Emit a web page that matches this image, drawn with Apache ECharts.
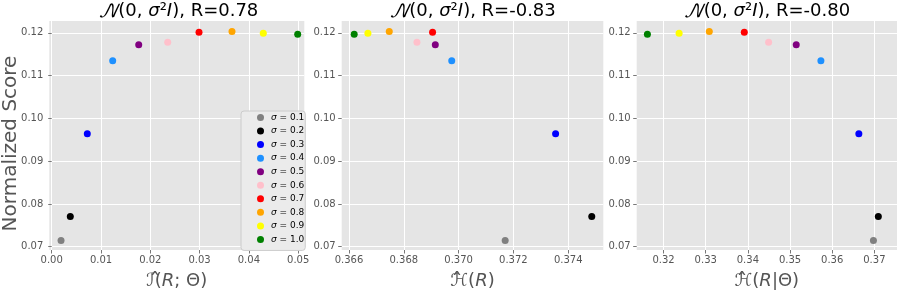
<!DOCTYPE html>
<html>
<head>
<meta charset="utf-8">
<script src="https://cdn.jsdelivr.net/npm/echarts@6/dist/echarts.min.js"></script>
<style>html,body{margin:0;padding:0;background:#fff}#c{width:900px;height:295px}</style>
</head>
<body>
<div id="c"></div>
<script>
const sigmas = ['0.1','0.2','0.3','0.4','0.5','0.6','0.7','0.8','0.9','1.0'];
const scores = [0.07148, 0.07705, 0.09643, 0.11351, 0.11722, 0.11784, 0.12016, 0.12030, 0.11993, 0.11970];
const mutualInfo = [0.00189, 0.00377, 0.00722, 0.01237, 0.01765, 0.02353, 0.02988, 0.03657, 0.04292, 0.04990];
const entropyR = [0.37170, 0.37486, 0.37354, 0.36975, 0.36915, 0.36848, 0.36905, 0.36747, 0.36669, 0.36619];
const condEntropy = [0.36978, 0.37094, 0.36632, 0.35732, 0.35147, 0.34492, 0.33915, 0.33085, 0.32369, 0.31617];
const titlesR = ['0.78', '-0.83', '-0.80'];
const yTicks = [0.07, 0.08, 0.09, 0.10, 0.11, 0.12];
const x1Ticks = [0.00, 0.01, 0.02, 0.03, 0.04, 0.05];
const x2Ticks = [0.366, 0.368, 0.370, 0.372, 0.374];
const x3Ticks = [0.32, 0.33, 0.34, 0.35, 0.36, 0.37];

const colors = ['#808080','#000000','#0000FF','#1E90FF','#800080','#FFC0CB','#FF0000','#FFA500','#FFFF00','#008000'];
const FONT = 'DejaVu Sans';
const grids = [
  {left: 49.3, top: 21, width: 255, height: 231},
  {left: 341.7, top: 21, width: 261.6, height: 231},
  {left: 636.7, top: 21, width: 260.3, height: 231}
];
const xRanges = [[-0.00049, 0.05124], [0.365734, 0.375281], [0.31363, 0.37537]];
const xTickSets = [x1Ticks, x2Ticks, x3Ticks];
const xDec = [2, 3, 2];
const xNames = ['{c|ℐ}({i|R}; Θ)', '{c|ℋ}({i|R})', '{c|ℋ}({i|R}|Θ)'];
const hatX = [155, 457, 742];
const xSeries = [mutualInfo, entropyR, condEntropy];

const nameRich = {
  c: {fontFamily: FONT, fontSize: 18, color: '#555555'},
  i: {fontFamily: FONT, fontSize: 18, fontStyle: 'italic', color: '#555555'}
};

const option = {
  backgroundColor: '#ffffff',
  animation: false,
  textStyle: {fontFamily: FONT},
  grid: grids.map(g => Object.assign({show: true, backgroundColor: '#E5E5E5', borderWidth: 0, containLabel: false}, g)),
  xAxis: grids.map((g, k) => ({
    type: 'value', gridIndex: k, min: xRanges[k][0], max: xRanges[k][1],
    axisLine: {show: false},
    axisTick: {show: true, length: 3.5, lineStyle: {color: '#555555', width: 0.8}, customValues: xTickSets[k]},
    axisLabel: {color: '#555555', fontSize: 10, fontFamily: FONT, margin: 5, customValues: xTickSets[k],
      formatter: v => v.toFixed(xDec[k])},
    splitLine: {show: true, lineStyle: {color: '#FFFFFF', width: 1}},
    name: xNames[k], nameLocation: 'middle', nameGap: 22,
    nameTextStyle: {fontFamily: FONT, fontSize: 18, color: '#555555', rich: nameRich}
  })),
  yAxis: grids.map((g, k) => ({
    type: 'value', gridIndex: k, min: 0.06924, max: 0.12278,
    axisLine: {show: false},
    axisTick: {show: true, length: 3.5, lineStyle: {color: '#555555', width: 0.8}, customValues: yTicks},
    axisLabel: {color: '#555555', fontSize: 10, fontFamily: FONT, margin: 6, customValues: yTicks,
      formatter: v => v.toFixed(2)},
    splitLine: {show: true, lineStyle: {color: '#FFFFFF', width: 1}}
  })),
  legend: {
    orient: 'vertical', left: 241, top: 111,
    data: sigmas, icon: 'circle',
    itemWidth: 11, itemHeight: 7, itemGap: 3.55,
    padding: [1.5, 1, 6, 16],
    backgroundColor: '#EBEBEB', borderColor: '#CCCCCC', borderWidth: 1, borderRadius: 3,
    formatter: n => '{s|σ} = ' + n,
    textStyle: {fontFamily: FONT, fontSize: 9, lineHeight: 10, color: '#000000',
      rich: {s: {fontFamily: FONT, fontSize: 9, fontStyle: 'italic', color: '#000000'}}}
  },
  graphic: [
    ...grids.map((g, k) => ({
      type: 'text', x: g.left + g.width / 2 + (k === 0 ? 1.5 : 0), y: 11.5, silent: true,
      style: {
        text: '{c|𝒩}(0, {i|σ}²{i|I}), R=' + titlesR[k],
        align: 'center', verticalAlign: 'middle',
        fontFamily: FONT, fontSize: 18, fill: '#000000',
        rich: {
          c: {fontFamily: 'DejaVu Math TeX Gyre, DejaVu Serif, DejaVu Sans', fontSize: 18, fontStyle: 'italic', color: '#000000'},
          i: {fontFamily: FONT, fontSize: 18, fontStyle: 'italic', color: '#000000'}
        }
      }
    })),
    ...hatX.map(hx => ({
      type: 'text', x: hx, y: 282, silent: true,
      style: {text: 'ˆ', align: 'center', verticalAlign: 'middle', fontFamily: FONT, fontSize: 22, fill: '#555555'}
    })),
    {
      type: 'text', x: 11, y: 143.5, rotation: Math.PI / 2, silent: true,
      style: {text: 'Normalized Score', align: 'center', verticalAlign: 'middle',
        fontFamily: FONT, fontSize: 20, fill: '#555555'}
    }
  ],
  series: []
};

for (let k = 0; k < 3; k++) {
  for (let i = 0; i < sigmas.length; i++) {
    option.series.push({
      type: 'scatter', name: sigmas[i], xAxisIndex: k, yAxisIndex: k,
      symbol: 'circle', symbolSize: 7,
      itemStyle: {color: colors[i], opacity: 1},
      data: [[xSeries[k][i], scores[i]]]
    });
  }
}

const chart = echarts.init(document.getElementById('c'), null, {renderer: 'canvas'});
chart.setOption(option);
</script>
</body>
</html>
